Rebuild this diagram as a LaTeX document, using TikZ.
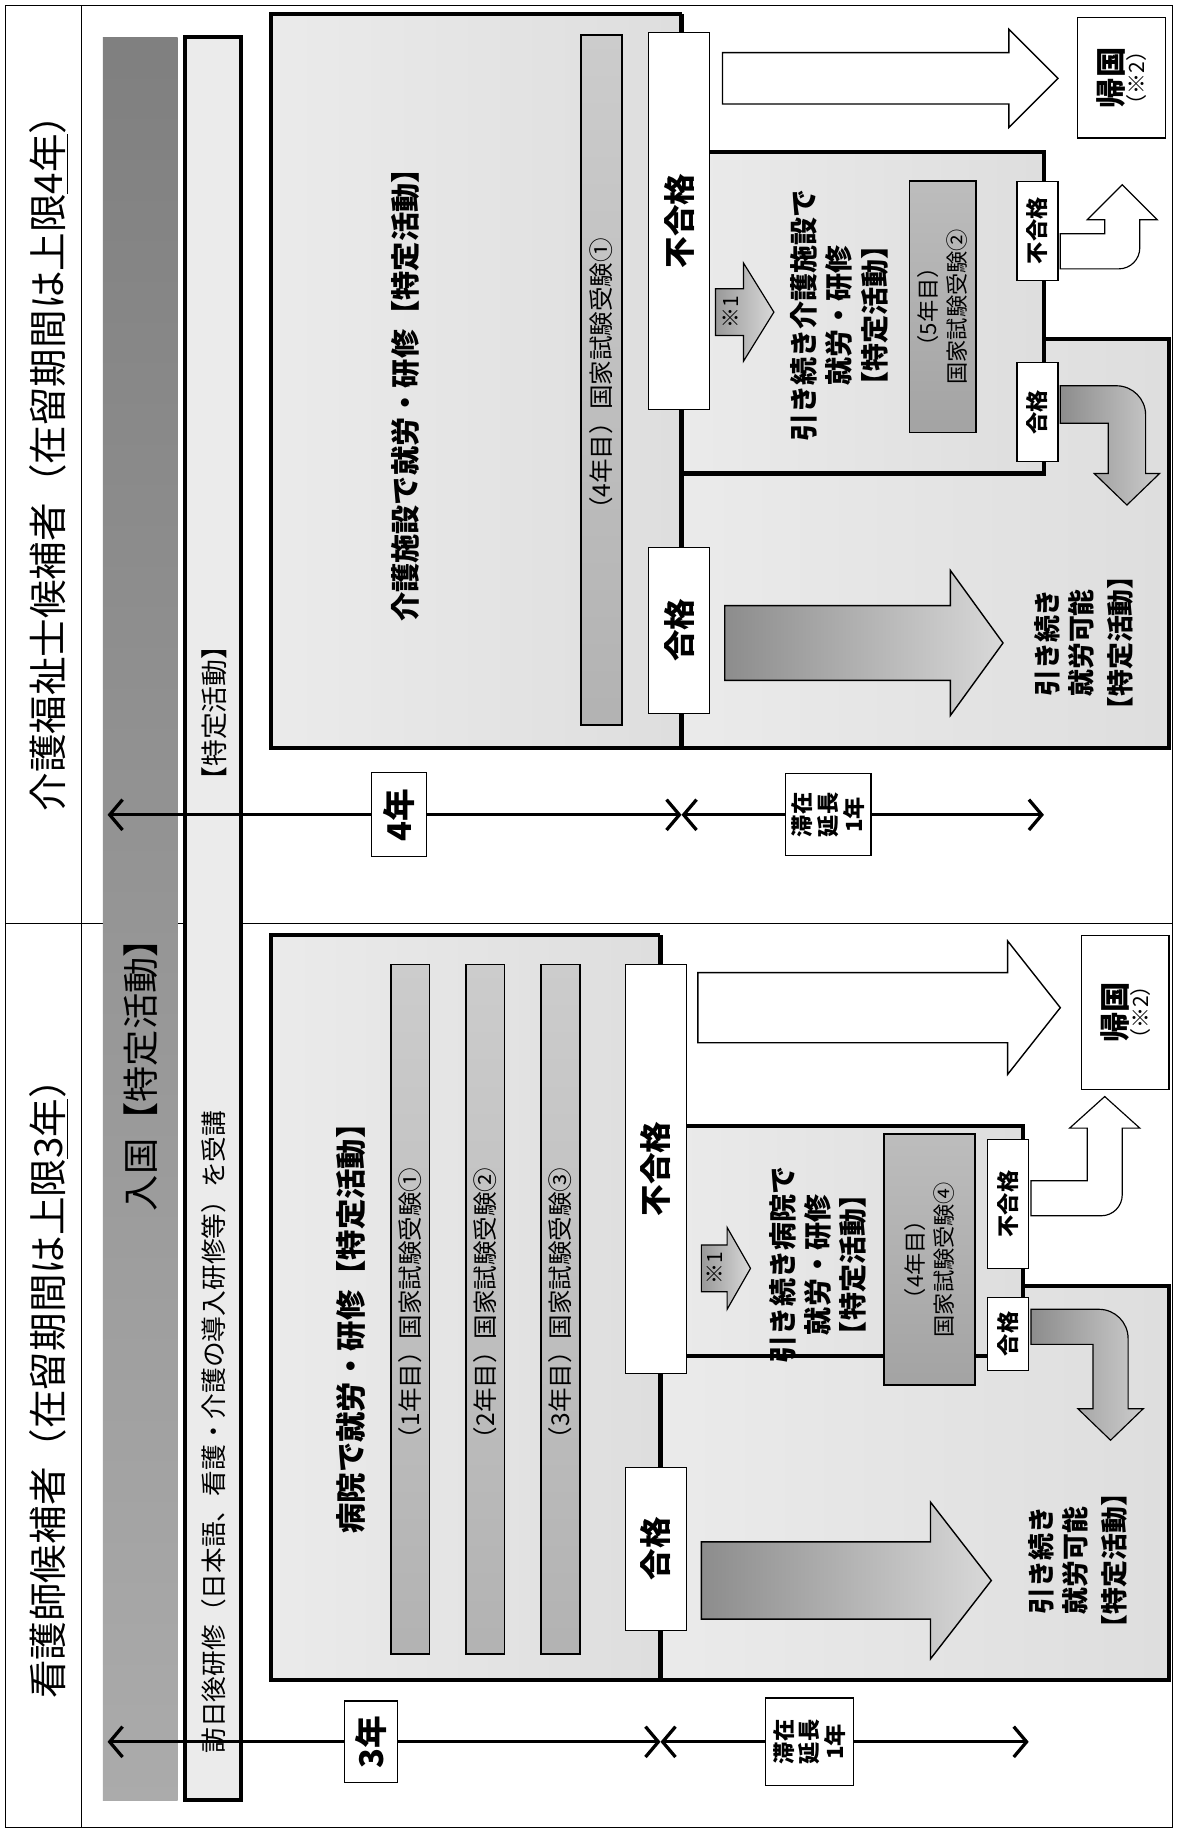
\documentclass[tikz,border=0pt]{standalone}
\usepackage{fontspec}
\setmainfont{Noto Sans CJK JP}
\usetikzlibrary{positioning,arrows.meta}

\newcommand{\fz}[2]{\fontsize{#1}{#2}\selectfont}
% block arrow: style, x tail, x tip, y centre, half body, half head, head length
\newcommand{\blockarr}[7]{%
  \draw[#1] (#2,#4-#5) -- (#3-#7,#4-#5) -- (#3-#7,#4-#6) -- (#3,#4)
    -- (#3-#7,#4+#6) -- (#3-#7,#4+#5) -- (#2,#4+#5) -- cycle;}

\tikzset{
  rot/.style = {rotate=90, align=center, inner sep=0pt},
  whitebox/.style = {rot, draw, fill=white, line width=1pt},
  exambar/.style = {rot, draw, line width=1.4pt, top color=black!20, bottom color=black!30},
  exambox/.style = {rot, draw, line width=1.4pt, top color=black!26, bottom color=black!36},
  panelfill/.style = {left color=black!8, right color=black!13},
  heavyline/.style = {line width=3.6pt},
  yrline/.style = {line width=2.8pt, -{Straight Barb[length=11pt,width=26pt]}},
  bold/.style 2 args = {font=\bfseries\fz{#1}{#2}}
}

\begin{document}
\begin{tikzpicture}[x=1pt,y=-1pt]
\useasboundingbox (0,0) rectangle (1007,1568);
\fill[white] (0,0) rectangle (1007,1568);

% frame, title column, divider
\draw[line width=1pt] (5,5) rectangle (1003,1563);
\draw[line width=1pt] (70,5) -- (70,1563);
\draw[line width=0.8pt] (5,790) -- (1003,790);

\node[rot, font=\fz{33}{38}] (ttlcare) at (42,388) {介護福祉士候補者（在留期間は上限\underline{4年}）};
\node[rot, font=\fz{33}{38}] (ttlnurse) at (42,1180) {看護師候補者（在留期間は上限\underline{3年}）};

% entry bar and training box
\node[rot, minimum width=1508pt, minimum height=64pt, top color=black!50, bottom color=black!33] (entry) at (120,786) {};
\node[rot, font=\fz{31}{36}] (entrytxt) at (120,912) {入国【特定活動】};
\node[rot, draw, line width=3.4pt, fill=black!8, minimum width=1508pt, minimum height=48pt] (visit) at (182.5,786) {};
\node[rot, font=\fz{23}{28}] (visitact) at (183,610) {【特定活動】};
\node[rot, font=\fz{22}{26}] (visittxt) at (183,1225) {訪日後研修（日本語、看護・介護の導入研修等）を受講};

% ---- care worker panel
\fill[panelfill] (232,12) rectangle (583,640);
\fill[panelfill] (583,130) rectangle (893,405);
\fill[panelfill] (583,405) -- (893,405) -- (893,290) -- (1000,290) -- (1000,640) -- (583,640) -- cycle;
\draw[heavyline] (583,12) -- (232,12) -- (232,640) -- (1000,640) -- (1000,290) -- (893,290);
\draw[heavyline] (583,12) -- (583,640);
\draw[heavyline] (583,130) -- (893,130) -- (893,405) -- (583,405);

\node[rot, bold={25}{30}] (carejob) at (347,332) {介護施設で就労・研修【特定活動】};
\node[exambar, minimum width=590pt, minimum height=35pt, font=\fz{21}{25}] (exam1) at (514.5,325) {（4年目）国家試験受験①};
\node[whitebox, minimum width=322pt, minimum height=52pt, bold={27}{30}] (ng1) at (581,189) {不合格};
\node[whitebox, minimum width=142pt, minimum height=52pt, bold={27}{30}] (ok1) at (581,539) {合格};
\node[whitebox, minimum width=103pt, minimum height=75pt] (home1) at (959.5,66.5) {{\bfseries\fz{26}{32}帰国}\\{\fz{18}{22}（※2）}};

\blockarr{line width=1.2pt, fill=white}{618}{905}{67}{22}{42}{42}
\blockarr{line width=1pt, left color=black!40, right color=black!15}{612}{662}{267}{20}{42}{26}
\node[rot, font=\fz{18}{20}] (note1) at (625,267) {※1};
\node[rot, bold={24}{30}] (carecont) at (718,270) {引き続き介護施設で\\就労・研修\\【特定活動】};
\node[exambox, minimum width=215pt, minimum height=57pt, font=\fz{19}{25}] (exam2) at (806.5,262.5) {（5年目）\\国家試験受験②};
\node[whitebox, minimum width=85pt, minimum height=35pt, bold={19}{22}] (ng1s) at (887.5,197.5) {不合格};
\node[whitebox, minimum width=85pt, minimum height=35pt, bold={19}{22}] (ok1s) at (887.5,352.5) {合格};

\draw[line width=1pt, fill=white] (907,200) -- (945,200) -- (945,188) -- (930,188) -- (960,158) -- (990,188)
  -- (975,188) -- (975,212) to[out=-90,in=0] (957,230) -- (907,230) -- cycle;
\draw[line width=1pt, left color=black!45, right color=black!20] (907,330) -- (955,330) to[out=0,in=90] (980,355)
  -- (980,405) -- (992,405) -- (964,432) -- (936,405) -- (948,405) -- (948,362) -- (907,362) -- cycle;

\blockarr{line width=1.2pt, left color=black!45, right color=black!15}{620}{858}{550}{32}{62}{45}
\node[rot, bold={23}{29}] (careok) at (927,550) {引き続き\\就労可能\\[4pt]【特定活動】};

% ---- nurse panel
\fill[panelfill] (232,800) rectangle (565,1437);
\fill[panelfill] (565,963) rectangle (875,1160);
\fill[panelfill] (565,1160) -- (875,1160) -- (875,1100) -- (1000,1100) -- (1000,1437) -- (565,1437) -- cycle;
\draw[heavyline] (565,800) -- (232,800) -- (232,1437) -- (1000,1437) -- (1000,1100) -- (875,1100);
\draw[heavyline] (565,800) -- (565,1437);
\draw[heavyline] (565,963) -- (875,963) -- (875,1160) -- (565,1160);

\node[rot, bold={26}{30}] (hospjob) at (300,1130) {病院で就労・研修【特定活動】};
\node[exambar, minimum width=590pt, minimum height=33pt, font=\fz{21}{25}] (examA) at (351,1120) {（1年目）国家試験受験①};
\node[exambar, minimum width=590pt, minimum height=33pt, font=\fz{21}{25}] (examB) at (415,1120) {（2年目）国家試験受験②};
\node[exambar, minimum width=590pt, minimum height=33pt, font=\fz{21}{25}] (examC) at (479.5,1120) {（3年目）国家試験受験③};
\node[whitebox, minimum width=350pt, minimum height=52pt, bold={27}{30}] (ng2) at (561,1000) {不合格};
\node[whitebox, minimum width=140pt, minimum height=52pt, bold={27}{30}] (ok2) at (561,1325) {合格};
\node[whitebox, minimum width=132pt, minimum height=75pt] (home2) at (962.5,866) {{\bfseries\fz{26}{32}帰国}\\{\fz{18}{22}（※2）}};

\blockarr{line width=1.2pt, fill=white}{597}{907}{862}{30}{57}{45}
\blockarr{line width=1pt, left color=black!40, right color=black!15}{600}{642}{1085}{20}{35}{20}
\node[rot, font=\fz{18}{20}] (note2) at (611,1085) {※1};
\node[rot, bold={24}{30}] (hospcont) at (700,1082) {引き続き病院で\\就労・研修\\【特定活動】};
\node[exambox, minimum width=215pt, minimum height=78pt, font=\fz{19}{25}] (exam4) at (795,1077.5) {（4年目）\\国家試験受験④};
\node[whitebox, minimum width=110pt, minimum height=35pt, bold={19}{22}] (ng2s) at (862.5,1030) {不合格};
\node[whitebox, minimum width=62pt, minimum height=35pt, bold={19}{22}] (ok2s) at (862.5,1141) {合格};

\draw[line width=1pt, fill=white] (882,1010) -- (930,1010) -- (930,965) -- (915,965) -- (945,938) -- (975,965)
  -- (960,965) -- (960,1022) to[out=-90,in=0] (942,1040) -- (882,1040) -- cycle;
\draw[line width=1pt, left color=black!45, right color=black!20] (882,1120) -- (940,1120) to[out=0,in=90] (965,1145)
  -- (965,1205) -- (978,1205) -- (950,1232) -- (922,1205) -- (935,1205) -- (935,1150) -- (882,1150) -- cycle;

\blockarr{line width=1.2pt, left color=black!45, right color=black!15}{600}{848}{1352}{33}{67}{52}
\node[rot, bold={23}{29}] (hospok) at (922,1335) {引き続き\\就労可能\\[4pt]【特定活動】};

% ---- period arrows
\coordinate (tip4) at (92,697);
\coordinate (junc4) at (583,697);
\coordinate (end4) at (893,697);
\node[whitebox, minimum width=72pt, minimum height=47pt, bold={28}{30}] (yr4) at (341.5,697) {4年};
\node[whitebox, minimum width=70pt, minimum height=73pt, bold={19}{22}] (stay1) at (708.5,697) {滞在\\延長\\1年};
\draw[yrline] (yr4) -- (tip4);
\draw[yrline] (yr4) -- (junc4);
\draw[yrline] (stay1) -- (junc4);
\draw[yrline] (stay1) -- (end4);

\coordinate (tip3) at (92,1490);
\coordinate (junc3) at (565,1490);
\coordinate (end3) at (880,1490);
\node[whitebox, minimum width=70pt, minimum height=45pt, bold={28}{30}] (yr3) at (317.5,1490) {3年};
\node[whitebox, minimum width=75pt, minimum height=75pt, bold={19}{22}] (stay2) at (692.5,1490) {滞在\\延長\\1年};
\draw[yrline] (yr3) -- (tip3);
\draw[yrline] (yr3) -- (junc3);
\draw[yrline] (stay2) -- (junc3);
\draw[yrline] (stay2) -- (end3);
\end{tikzpicture}
\end{document}
